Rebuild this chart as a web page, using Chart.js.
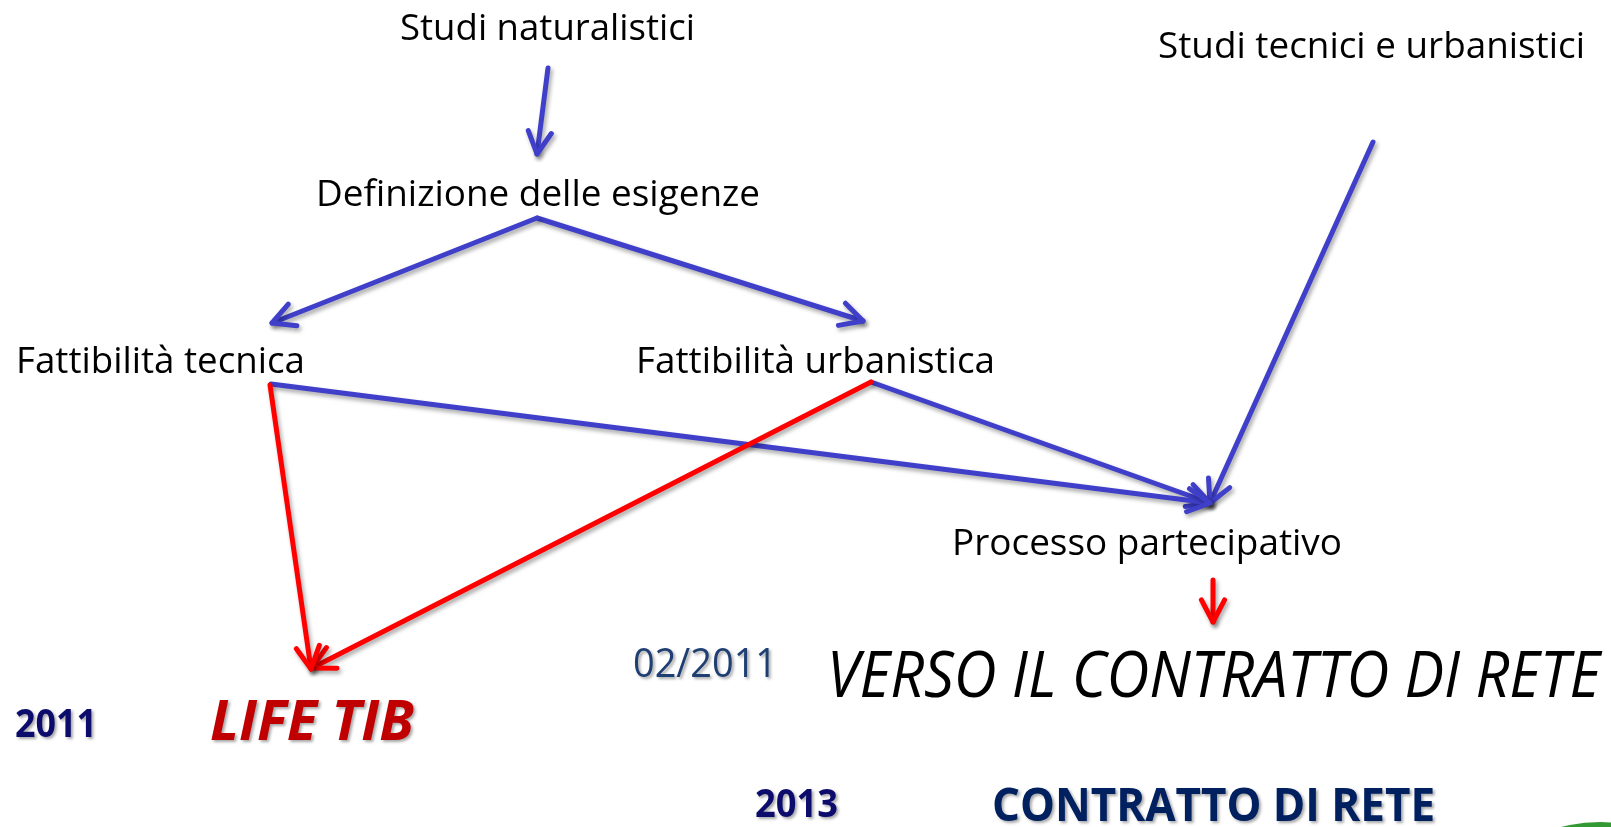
<!DOCTYPE html>
<html lang="it">
<head>
<meta charset="utf-8">
<title>Verso il contratto di rete</title>
<script src="https://cdn.jsdelivr.net/npm/chart.js@4.4.1/dist/chart.umd.min.js"></script>
<style>
  html, body { margin: 0; padding: 0; background: #fff; overflow: hidden; }
  #wrap { width: 1611px; height: 827px; position: relative; }
</style>
</head>
<body>
<div id="wrap"><canvas id="flowChart"></canvas></div>
<script>
// ── Diagram data (slide units, x 0–1611, y 0–827 top-down) ───────
const nodeText = [
  'Studi naturalistici', 'Studi tecnici e urbanistici', 'Definizione delle esigenze',
  'Fattibilità tecnica', 'Fattibilità urbanistica', 'Processo partecipativo',
  '02/2011', 'VERSO IL CONTRATTO DI RETE', '2011', 'LIFE TIB', '2013', 'CONTRATTO DI RETE'
];
const nodeX = [400, 1158, 316, 16, 636, 952, 633, 827, 15, 210, 755, 992];
const nodeY = [40, 58, 206, 373, 373, 555, 677, 697, 737, 740, 817, 821];

// blue arrows: naturalistic -> needs -> feasibilities -> participation
const blueFromX = [548, 537, 537, 271, 871, 1373];
const blueFromY = [68, 218, 218, 384, 382, 142];
const blueToX   = [537, 272, 863, 1210, 1210, 1210];
const blueToY   = [154, 323, 321, 503, 503, 503];

// red arrows: feasibilities -> LIFE TIB, participation -> contract
const redFromX = [270, 871, 1213];
const redFromY = [385, 382, 580];
const redToX   = [311, 312, 1213];
const redToY   = [669, 668, 622];

// green button peeking in the bottom-right corner
const cornerX = [1600];
const cornerY = [977];

// ── Text styles ───────────────────────────────────────────────
const STYLES = {
  plain:    { font: '400 36px "Open Sans"', color: '#000000', shadow: false },
  verso:    { font: 'italic 400 64px "Open Sans"', color: '#000000', shadow: false },
  date:     { font: '400 40px "Open Sans"', color: '#1F3F73', shadow: true },
  year:     { font: '700 40px "Open Sans"', color: '#0C0C6C', shadow: true },
  life:     { font: 'italic 700 56px "Open Sans"', color: '#C00000', shadow: true },
  contract: { font: '700 47px "Open Sans"', color: '#002060', shadow: true }
};
const nodeStyle = ['plain', 'plain', 'plain', 'plain', 'plain', 'plain',
                   'date', 'verso', 'year', 'life', 'year', 'contract'];
const nodeWidth = [295, 427, 444, 289, 359, 390, 144, 773, 82, 204, 83, 443];

const BLUE = '#3F3FCA';
const RED  = '#FF0000';

// ── Build arrow datasets ──────────────────────────────────────
function arrowSets(fx, fy, tx, ty, color) {
  return fx.map((x, i) => ({
    data: [{ x: x, y: fy[i] }, { x: tx[i], y: ty[i] }],
    showLine: true,
    borderColor: color,
    borderWidth: 5,
    borderCapStyle: 'round',
    pointRadius: 0,
    fill: false,
    arrow: true
  }));
}

// ── Plugins ───────────────────────────────────────────────────
const arrowPlugin = {
  id: 'arrowHeads',
  beforeDatasetDraw(chart, args) {
    const ctx = chart.ctx;
    ctx.save();
    if (chart.data.datasets[args.index].arrow) {
      ctx.shadowColor = 'rgba(0,0,0,0.35)';
      ctx.shadowBlur = 4;
      ctx.shadowOffsetX = 2;
      ctx.shadowOffsetY = 3;
    }
  },
  afterDatasetDraw(chart, args) {
    const ctx = chart.ctx;
    const ds = chart.data.datasets[args.index];
    if (ds.arrow) {
      const p0 = args.meta.data[0], p1 = args.meta.data[1];
      const ang = Math.atan2(p1.y - p0.y, p1.x - p0.x);
      const len = 25, spread = Math.PI / 6.5;
      ctx.strokeStyle = ds.borderColor;
      ctx.lineWidth = ds.borderWidth;
      ctx.lineCap = 'round';
      ctx.lineJoin = 'round';
      ctx.beginPath();
      ctx.moveTo(p1.x - len * Math.cos(ang - spread), p1.y - len * Math.sin(ang - spread));
      ctx.lineTo(p1.x, p1.y);
      ctx.lineTo(p1.x - len * Math.cos(ang + spread), p1.y - len * Math.sin(ang + spread));
      ctx.stroke();
    }
    ctx.restore();
  }
};

const labelPlugin = {
  id: 'nodeLabels',
  afterDatasetsDraw(chart) {
    const ctx = chart.ctx;
    const xs = chart.scales.x, ys = chart.scales.y;
    nodeText.forEach((t, i) => {
      const st = STYLES[nodeStyle[i]];
      ctx.save();
      ctx.font = st.font;
      ctx.fillStyle = st.color;
      ctx.textBaseline = 'alphabetic';
      ctx.textAlign = 'left';
      if (st.shadow) {
        ctx.shadowColor = 'rgba(0,0,0,0.35)';
        ctx.shadowBlur = 3;
        ctx.shadowOffsetX = 2;
        ctx.shadowOffsetY = 2;
      }
      const sx = nodeWidth[i] / ctx.measureText(t).width;
      ctx.translate(xs.getPixelForValue(nodeX[i]), ys.getPixelForValue(nodeY[i]));
      ctx.scale(sx, 1);
      ctx.fillText(t, 0, 0);
      ctx.restore();
    });
  }
};

// ── Chart ─────────────────────────────────────────────────────
const datasets = [
  ...arrowSets(redFromX, redFromY, redToX, redToY, RED),
  ...arrowSets(blueFromX, blueFromY, blueToX, blueToY, BLUE),
  {
    data: cornerX.map((x, i) => ({ x: x, y: cornerY[i] })),
    pointRadius: 155,
    pointBackgroundColor: '#339933',
    pointBorderWidth: 0,
    showLine: false
  }
];

new Chart(document.getElementById('flowChart'), {
  type: 'scatter',
  data: { datasets },
  options: {
    responsive: true,
    maintainAspectRatio: false,
    animation: false,
    events: [],
    layout: { padding: 0, autoPadding: false },
    plugins: { legend: { display: false }, tooltip: { enabled: false } },
    scales: {
      x: { type: 'linear', min: 0, max: 1611, display: false },
      y: { type: 'linear', min: 0, max: 827, reverse: true, display: false }
    }
  },
  plugins: [arrowPlugin, labelPlugin]
});
</script>
</body>
</html>
